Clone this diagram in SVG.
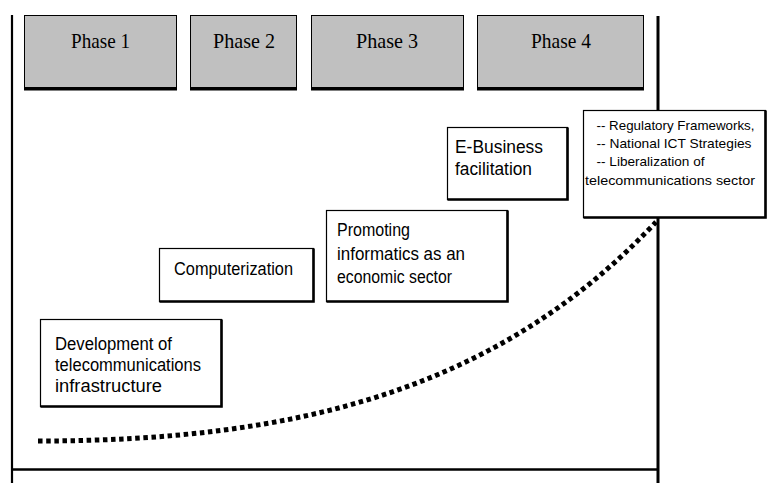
<svg xmlns="http://www.w3.org/2000/svg" width="768" height="483" viewBox="0 0 768 483">
<style>
.ph{fill:#c0c0c0;stroke:#000;stroke-width:1}
.phb{fill:#000}
.pt{font-family:"Liberation Serif","Times New Roman",serif;font-size:22px;fill:#000;text-anchor:middle}
.bx{fill:#fff;stroke:#000;stroke-width:1.2}
.sh{fill:none;stroke:#000;stroke-width:2.6}
.t{font-family:"Liberation Sans",Arial,sans-serif;font-size:17.5px;fill:#000}
.ts{font-family:"Liberation Sans",Arial,sans-serif;font-size:13.5px;fill:#000}
.ax{stroke:#000;fill:none}
</style>
<g id="axes">
<line class="ax" x1="12" y1="15" x2="12" y2="483" stroke-width="2.2"/>
<line class="ax" x1="12" y1="469.5" x2="658" y2="469.5" stroke-width="2.4"/>
<line class="ax" x1="658" y1="16" x2="658" y2="483" stroke-width="3"/>
</g>
<g id="connectors">
<path d="M38,441 C300,441 500,388 656,222" fill="none" stroke="#000" stroke-width="5" stroke-dasharray="4.5 3.6"/>
</g>
<g id="phase1">
<rect class="ph" x="24.5" y="15.5" width="152" height="72"/>
<rect class="phb" x="24" y="87" width="153" height="3.5"/>
<text class="pt" x="100.5" y="47.5" textLength="59" lengthAdjust="spacingAndGlyphs">Phase 1</text>
</g>
<g id="phase2">
<rect class="ph" x="190.5" y="15.5" width="106" height="72"/>
<rect class="phb" x="190" y="87" width="107" height="3.5"/>
<text class="pt" x="244" y="47.5" textLength="62" lengthAdjust="spacingAndGlyphs">Phase 2</text>
</g>
<g id="phase3">
<rect class="ph" x="311.5" y="15.5" width="152" height="72"/>
<rect class="phb" x="311" y="87" width="153" height="3.5"/>
<text class="pt" x="387" y="47.5" textLength="62" lengthAdjust="spacingAndGlyphs">Phase 3</text>
</g>
<g id="phase4">
<rect class="ph" x="477.5" y="15.5" width="166" height="72"/>
<rect class="phb" x="477" y="87" width="167" height="3.5"/>
<text class="pt" x="561" y="47.5" textLength="60" lengthAdjust="spacingAndGlyphs">Phase 4</text>
</g>
<g id="development">
<rect class="bx" x="40.5" y="319.5" width="181" height="87"/>
<polyline class="sh" points="221.5,319.5 221.5,406.5 40.5,406.5"/>
<text class="t" x="55" y="350" textLength="117" lengthAdjust="spacingAndGlyphs">Development of</text>
<text class="t" x="55" y="371" textLength="146" lengthAdjust="spacingAndGlyphs">telecommunications</text>
<text class="t" x="55" y="392" textLength="107" lengthAdjust="spacingAndGlyphs">infrastructure</text>
</g>
<g id="computerization">
<rect class="bx" x="159.5" y="248.5" width="154" height="53"/>
<polyline class="sh" points="313.5,248.5 313.5,301.5 159.5,301.5"/>
<text class="t" x="174" y="274.5" textLength="119" lengthAdjust="spacingAndGlyphs">Computerization</text>
</g>
<g id="promoting">
<rect class="bx" x="326.5" y="210.5" width="181" height="91"/>
<polyline class="sh" points="507.5,210.5 507.5,301.5 326.5,301.5"/>
<text class="t" x="337" y="236" textLength="73" lengthAdjust="spacingAndGlyphs">Promoting</text>
<text class="t" x="337" y="259.5" textLength="128" lengthAdjust="spacingAndGlyphs">informatics as an</text>
<text class="t" x="337" y="282.5" textLength="115" lengthAdjust="spacingAndGlyphs">economic sector</text>
</g>
<g id="ebusiness">
<rect class="bx" x="447.5" y="127.5" width="120" height="72"/>
<polyline class="sh" points="567.5,127.5 567.5,199.5 447.5,199.5"/>
<text class="t" x="455" y="153" textLength="88" lengthAdjust="spacingAndGlyphs">E-Business</text>
<text class="t" x="455" y="175" textLength="77" lengthAdjust="spacingAndGlyphs">facilitation</text>
</g>
<g id="regulatory">
<rect class="bx" x="583.5" y="110.5" width="182" height="107"/>
<polyline class="sh" points="765.5,110.5 765.5,217.5 583.5,217.5"/>
<text class="ts" x="596.5" y="130" textLength="158" lengthAdjust="spacingAndGlyphs">-- Regulatory Frameworks,</text>
<text class="ts" x="596.5" y="148" textLength="155" lengthAdjust="spacingAndGlyphs">-- National ICT Strategies</text>
<text class="ts" x="596.5" y="166" textLength="108" lengthAdjust="spacingAndGlyphs">-- Liberalization of</text>
<text class="ts" x="585" y="185" textLength="170" lengthAdjust="spacingAndGlyphs">telecommunications sector</text>
</g>
</svg>
